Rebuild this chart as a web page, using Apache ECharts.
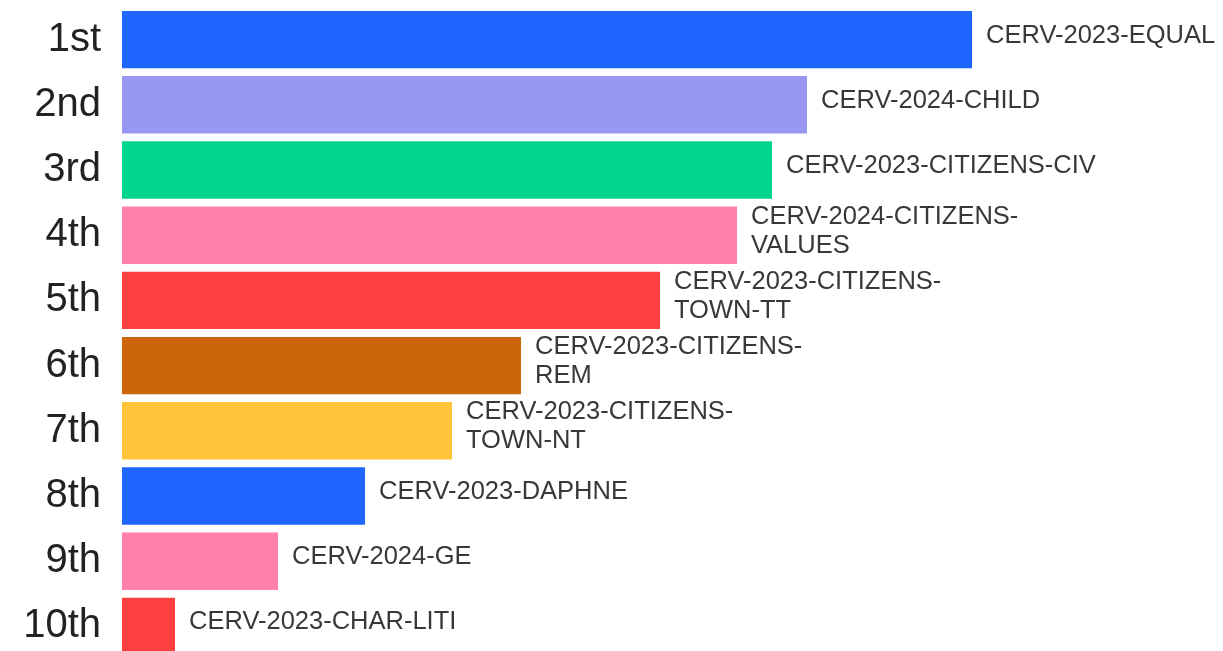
<!DOCTYPE html>
<html><head><meta charset="utf-8">
<script src="https://cdn.jsdelivr.net/npm/echarts@6/dist/echarts.min.js"></script>
<style>html,body{margin:0;padding:0;background:#fff}#c{width:1223px;height:651px}</style>
</head><body><div id="c"></div>
<script>
const ranks = ['1st','2nd','3rd','4th','5th','6th','7th','8th','9th','10th'];
const calls = ['CERV-2023-EQUAL','CERV-2024-CHILD','CERV-2023-CITIZENS-CIV','CERV-2024-CITIZENS-\nVALUES','CERV-2023-CITIZENS-\nTOWN-TT','CERV-2023-CITIZENS-\nREM','CERV-2023-CITIZENS-\nTOWN-NT','CERV-2023-DAPHNE','CERV-2024-GE','CERV-2023-CHAR-LITI'];
const values = [850, 685, 650, 615, 538, 399, 330, 243, 156, 53];
const colors = ['#1f66ff','#9898f2','#00d68f','#ff80a8','#ff4040','#cc6608','#ffc43a','#1f66ff','#ff80a8','#ff4040'];

const chart = echarts.init(document.getElementById('c'));
chart.setOption({
  animation:false,
  grid:{left:122,width:1000,top:7,height:652,outerBoundsMode:'none',containLabel:false},
  xAxis:{type:'value',min:0,max:1000,show:false},
  yAxis:{type:'category',data:ranks,inverse:true,
    axisLine:{show:false},axisTick:{show:false},
    axisLabel:{fontSize:40,color:'#222',margin:21,fontFamily:'Liberation Sans'}},
  series:[{type:'bar',barCategoryGap:'12%',
    data:values.map((v,i)=>({value:v,itemStyle:{color:colors[i]},
      label:{formatter:calls[i]}})),
    label:{show:true,position:'right',distance:14,offset:[0,-4],fontSize:25.5,color:'#383838',lineHeight:29,fontFamily:'Liberation Sans'}
  }]
});
</script></body></html>
